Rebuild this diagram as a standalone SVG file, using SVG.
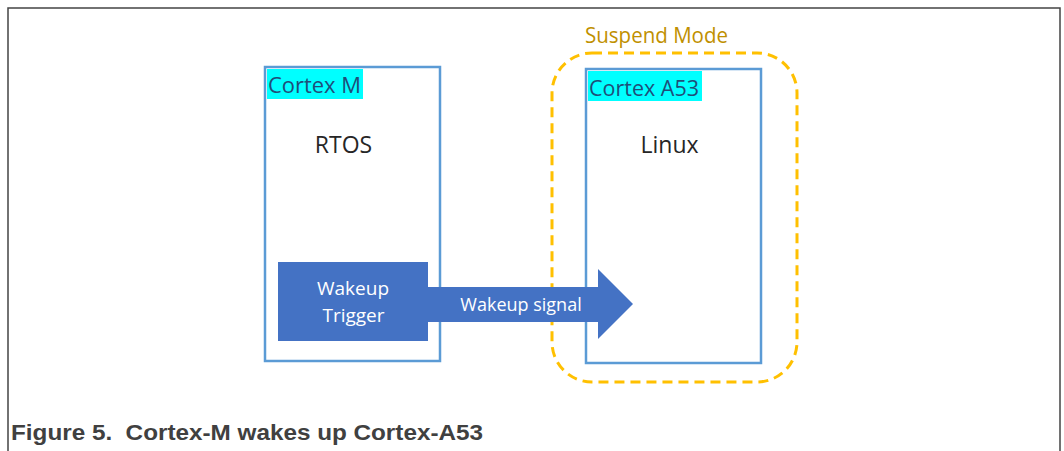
<svg xmlns="http://www.w3.org/2000/svg" width="1064" height="451" viewBox="0 0 1064 451">
<style>
.frame{fill:none;stroke:#444;stroke-width:1.5}
.box{fill:#fff;stroke:#5B9BD5;stroke-width:2.5}
.hl{fill:#00FFFF}
.lbl{font-family:"Open Sans","Liberation Sans",sans-serif;font-size:22px;fill:#1F4E79}
.os{font-family:"Open Sans","Liberation Sans",sans-serif;font-size:23px;fill:#262626;text-anchor:middle}
.wt{font-family:"Open Sans","Liberation Sans",sans-serif;font-size:19px;fill:#fff;text-anchor:middle}
.sig{font-size:18px}
.cap{font-family:"Liberation Sans",Arial,sans-serif;font-size:22px;font-weight:bold;fill:#404040;white-space:pre}
</style>
<rect width="1064" height="451" fill="#fff"/>
<path class="frame" d="M8,451 V8 H1060 V451"/>
<g id="suspend">
<rect x="552" y="53" width="245" height="329" rx="40" ry="40" fill="none" stroke="#FFC000" stroke-width="3" stroke-dasharray="10,6"/>
<text x="585" y="43" font-family="'Open Sans','Liberation Sans',sans-serif" font-size="21" fill="#BF9000" textLength="143" lengthAdjust="spacingAndGlyphs">Suspend Mode</text>
</g>
<g id="cortex-m">
<rect class="box" x="265" y="67" width="175" height="294"/>
<rect class="hl" x="267" y="69" width="96" height="30"/>
<text class="lbl" x="268" y="93" textLength="93" lengthAdjust="spacingAndGlyphs">Cortex M</text>
<text class="os" x="343.5" y="153">RTOS</text>
</g>
<g id="cortex-a53">
<rect class="box" x="586" y="69" width="175" height="294"/>
<rect class="hl" x="588" y="71" width="114" height="30"/>
<text class="lbl" x="589" y="96" textLength="110" lengthAdjust="spacingAndGlyphs">Cortex A53</text>
<text class="os" x="669.5" y="153">Linux</text>
</g>
<g id="connectors">
<path d="M428,287 H598 V269 L633,304 L598,339 V322 H428 Z" fill="#4472C4"/>
<text class="wt sig" x="521" y="311">Wakeup signal</text>
</g>
<g id="wakeup-trigger">
<rect x="278" y="262" width="150" height="79" fill="#4472C4"/>
<text class="wt" x="353" y="295">Wakeup</text>
<text class="wt" x="353.5" y="322">Trigger</text>
</g>
<text class="cap" x="11" y="440" textLength="472" lengthAdjust="spacingAndGlyphs" xml:space="preserve">Figure 5.  Cortex-M wakes up Cortex-A53</text>
</svg>
